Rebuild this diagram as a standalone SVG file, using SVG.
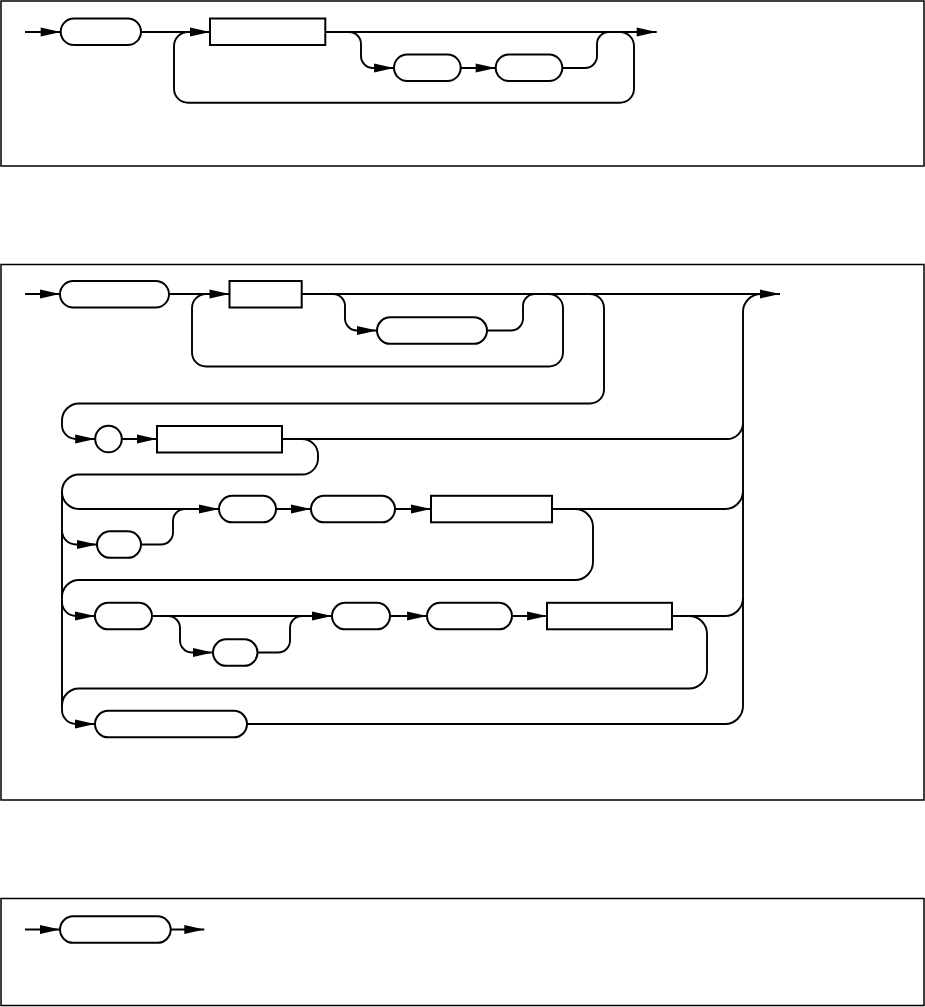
<svg xmlns="http://www.w3.org/2000/svg" width="925" height="1007" viewBox="0 0 925 1007">
<style>
.frame{fill:none;stroke:#000;stroke-width:1.5}
.n{fill:#fff;stroke:#000;stroke-width:2}
.c path{fill:none;stroke:#000;stroke-width:1.9}
.a{marker-end:url(#arr)}
</style>
<defs>
<marker id="arr" markerUnits="userSpaceOnUse" markerWidth="20" markerHeight="9" refX="20" refY="4.5" orient="auto" overflow="visible">
<path d="M0,0 L20,4.5 L0,9 z" fill="#000"/>
</marker>
</defs>
<rect width="925" height="1007" fill="#fff"/>
<rect class="frame" x="1" y="1" width="923" height="165"/>
<rect class="frame" x="1" y="264.5" width="923" height="535.5"/>
<rect class="frame" x="1" y="898.5" width="923" height="107"/>

<g id="connectors" class="c">
<!-- panel 1 -->
<path class="a" d="M25,32 H60.7"/>
<path class="a" d="M141,32 H210"/>
<path class="a" d="M325.3,32 H656.7"/>
<path class="a" d="M349,32 A12,12 0 0 1 361,44 V56 A12,12 0 0 0 373,68 H394"/>
<path class="a" d="M460.7,68 H495.7"/>
<path d="M562.3,68 H585 A12,12 0 0 0 597,56 V44 A12,12 0 0 1 609,32 H620"/>
<path d="M620,32 A14,14 0 0 1 634,46 V88.7 A14,14 0 0 1 620,102.7 H188 A14,14 0 0 1 174,88.7 V46 A14,14 0 0 1 188,32 H192"/>
<!-- panel 2 row 1 -->
<path class="a" d="M25,294 H60"/>
<path class="a" d="M169,294 H229.5"/>
<path class="a" d="M301.7,294 H780"/>
<path class="a" d="M333,294 A12,12 0 0 1 345,306 V318.5 A12,12 0 0 0 357,330.5 H377"/>
<path d="M487,330.5 H511 A12,12 0 0 0 523,318.5 V306 A12,12 0 0 1 535,294"/>
<path d="M549,294 A14,14 0 0 1 563,308 V352.5 A14,14 0 0 1 549,366.5 H206 A14,14 0 0 1 192,352.5 V308 A14,14 0 0 1 206,294 H212"/>
<path class="a" d="M590,294 A14,14 0 0 1 604,308 V389.5 A14,14 0 0 1 590,403.5 H79 A17,17 0 0 0 62,420.5 V425 A14,14 0 0 0 76,439 H95.2"/>
<!-- row 2 -->
<path class="a" d="M121.8,439 H157"/>
<path d="M282,439 H727 A16,16 0 0 0 743,423"/>
<path d="M282,439 H302 A16,16 0 0 1 318,455 V458.5 A16,16 0 0 1 302,474.5 H79 A17,17 0 0 0 62,491.5 V710 A14,14 0 0 0 76,724 H95"/>
<path class="a" d="M76,724 H95"/>
<!-- row 3 -->
<path class="a" d="M62,492 A17,17 0 0 0 79,509 H219"/>
<path class="a" d="M62,530.5 A14,14 0 0 0 76,544.5 H97"/>
<path d="M141,544.5 H161 A12,12 0 0 0 173,532.5 V521 A12,12 0 0 1 185,509"/>
<path class="a" d="M276,509 H311"/>
<path class="a" d="M395,509 H431"/>
<path d="M552,509 H725 A18,18 0 0 0 743,491"/>
<path d="M552,509 H575 A18,18 0 0 1 593,527 V562 A18,18 0 0 1 575,580 H79 A17,17 0 0 0 62,597"/>
<!-- row 4 -->
<path class="a" d="M62,602 A14,14 0 0 0 76,616 H95"/>
<path class="a" d="M152,616 H332"/>
<path class="a" d="M168,616 A12,12 0 0 1 180,628 V640.5 A12,12 0 0 0 192,652.5 H213"/>
<path d="M257.5,652.5 H278 A12,12 0 0 0 290,640.5 V628 A12,12 0 0 1 302,616"/>
<path class="a" d="M390,616 H427"/>
<path class="a" d="M512,616 H547"/>
<path d="M672,616 H725 A18,18 0 0 0 743,598"/>
<path d="M672,616 H689 A18,18 0 0 1 707,634 V670.5 A18,18 0 0 1 689,688.5 H79 A17,17 0 0 0 62,705.5"/>
<!-- row 5 -->
<path d="M247,724 H725 A18,18 0 0 0 743,706 V312 A18,18 0 0 1 761,294"/>
<!-- panel 3 -->
<path class="a" d="M25,929.5 H60"/>
<path class="a" d="M170.7,929.5 H204.3"/>
</g>

<!-- panel 1 nodes -->
<g id="p1-n1"><rect class="n" x="60.7" y="18.5" width="80.3" height="26.5" rx="13.25"/></g>
<g id="p1-n2"><rect class="n" x="210" y="18.5" width="115.3" height="26.5"/></g>
<g id="p1-n3"><rect class="n" x="394" y="54.5" width="66.7" height="26.5" rx="13.25"/></g>
<g id="p1-n4"><rect class="n" x="495.7" y="54.5" width="66.6" height="26.5" rx="13.25"/></g>
<!-- panel 2 nodes -->
<g id="p2-n1"><rect class="n" x="60" y="281" width="109" height="26.5" rx="13.25"/></g>
<g id="p2-n2"><rect class="n" x="229.5" y="281" width="72.2" height="26.5"/></g>
<g id="p2-n3"><rect class="n" x="377" y="317.3" width="110" height="26.5" rx="13.25"/></g>
<g id="p2-n4"><circle class="n" cx="108.5" cy="439" r="13.3"/></g>
<g id="p2-n5"><rect class="n" x="157" y="426" width="125" height="26.5"/></g>
<g id="p2-n6"><rect class="n" x="97" y="531.3" width="44" height="26.5" rx="13.25"/></g>
<g id="p2-n7"><rect class="n" x="219" y="495.8" width="57" height="26.5" rx="13.25"/></g>
<g id="p2-n8"><rect class="n" x="311" y="495.8" width="84" height="26.5" rx="13.25"/></g>
<g id="p2-n9"><rect class="n" x="431" y="495.8" width="121" height="26.5"/></g>
<g id="p2-n10"><rect class="n" x="95" y="602.8" width="57" height="26.5" rx="13.25"/></g>
<g id="p2-n11"><rect class="n" x="213" y="639.3" width="44.5" height="26.5" rx="13.25"/></g>
<g id="p2-n12"><rect class="n" x="332" y="602.8" width="58" height="26.5" rx="13.25"/></g>
<g id="p2-n13"><rect class="n" x="427" y="602.8" width="85" height="26.5" rx="13.25"/></g>
<g id="p2-n14"><rect class="n" x="547" y="602.8" width="125" height="26.5"/></g>
<g id="p2-n15"><rect class="n" x="95" y="710.8" width="152" height="26.5" rx="13.25"/></g>
<!-- panel 3 nodes -->
<g id="p3-n1"><rect class="n" x="60" y="916.3" width="110.7" height="26.5" rx="13.25"/></g>
</svg>
